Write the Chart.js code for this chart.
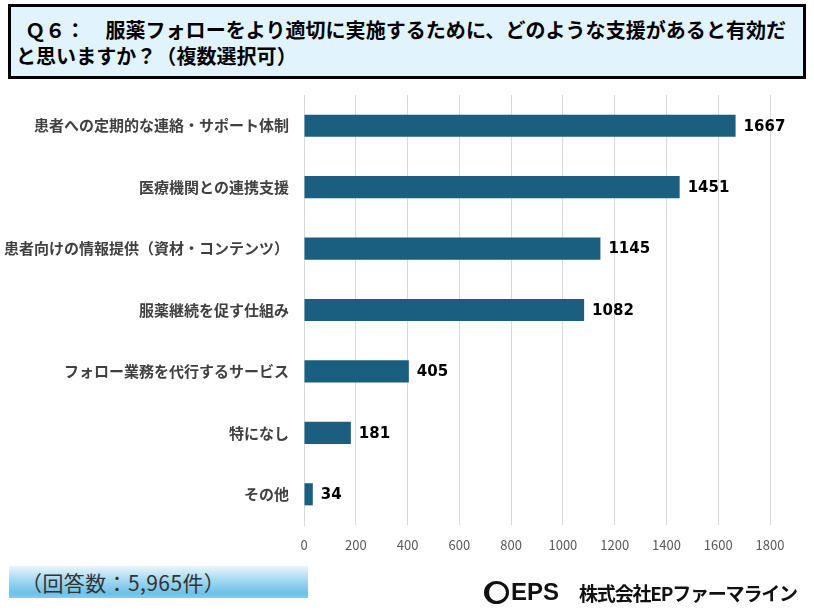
<!DOCTYPE html>
<html lang="ja">
<head>
<meta charset="utf-8">
<script src="https://cdn.jsdelivr.net/npm/chart.js@4"></script>
<style>
  html, body { margin: 0; padding: 0; background: #fff; }
  body { width: 814px; height: 613px; position: relative; overflow: hidden; font-family: "Noto Sans CJK JP", sans-serif; }
  #chartWrap { position: absolute; left: 0; top: 0; width: 814px; height: 613px; }
  .title {
    position: absolute; left: 8px; top: 4px; width: 798px; height: 75px;
    border: 3px solid #000; background: #E1F3FC;
    font-weight: bold; font-size: 20px; line-height: 26px; color: #000;
    padding: 10px 0 0 5px; box-sizing: border-box; white-space: nowrap; letter-spacing: 0.05px;
  }
  .count {
    position: absolute; left: 9px; top: 566px; width: 299px; height: 32px;
    background: linear-gradient(to bottom, #EAF6FC 0%, #A9DBF2 40%, #6DC0E8 85%, #86CCEC 100%);
    font-size: 21px; line-height: 32px; color: #333; padding-left: 12px; box-sizing: border-box; letter-spacing: 0.4px;
  }
  .logo { position: absolute; left: 484px; top: 577px; height: 30px; display: flex; align-items: center; white-space: nowrap; }
  .ring { width: 17px; height: 17px; border-radius: 50%; border: 3px solid #111; border-left-width: 5px; margin-right: 2px; }
  .eps { font-family: "Liberation Sans", sans-serif; font-weight: bold; font-size: 24px; color: #111; margin-right: 20px; }
  .corp { font-weight: bold; font-size: 19px; color: #111; letter-spacing: -1.2px; }
</style>
</head>
<body>
<div id="chartWrap"><canvas id="barChart"></canvas></div>
<div class="title">&nbsp;&nbsp;Ｑ６：　服薬フォローをより適切に実施するために、どのような支援があると有効だ<br>と思いますか？（複数選択可）</div>
<div class="count">（回答数：5,965件）</div>
<div class="logo"><div class="ring"></div><span class="eps">EPS</span><span class="corp">株式会社EPファーマライン</span></div>
<script>
// データ
const categories = [
  '患者への定期的な連絡・サポート体制',
  '医療機関との連携支援',
  '患者向けの情報提供（資材・コンテンツ）',
  '服薬継続を促す仕組み',
  'フォロー業務を代行するサービス',
  '特になし',
  'その他'
];
const answers = [1667, 1451, 1145, 1082, 405, 181, 34];
const axisMax = 1800;
const axisStep = 200;

// 棒の右に数値を表示
const valueLabels = {
  id: 'valueLabels',
  afterDatasetsDraw(chart) {
    const c = chart.ctx;
    const meta = chart.getDatasetMeta(0);
    c.save();
    c.font = 'bold 15px "DejaVu Sans", sans-serif';
    c.fillStyle = '#000';
    c.textBaseline = 'middle';
    meta.data.forEach((bar, i) => {
      c.fillText(answers[i], bar.x + 8, bar.y + 1);
    });
    c.restore();
  }
};

const ctx = document.getElementById('barChart').getContext('2d');
new Chart(ctx, {
  type: 'bar',
  data: {
    labels: categories,
    datasets: [{
      data: answers,
      backgroundColor: '#1A5E80',
      barPercentage: 0.36,
      categoryPercentage: 1
    }]
  },
  options: {
    indexAxis: 'y',
    responsive: true,
    maintainAspectRatio: false,
    animation: false,
    layout: { padding: { top: 95, left: 0, right: 44, bottom: 58 } },
    plugins: {
      legend: { display: false },
      tooltip: { enabled: false }
    },
    scales: {
      x: {
        min: 0,
        max: axisMax,
        ticks: {
          stepSize: axisStep,
          color: '#595959',
          padding: 12,
          font: { family: '"Noto Sans CJK JP", sans-serif', size: 13 },
          callback: v => String(v)
        },
        grid: { color: '#D9D9D9', drawTicks: false },
        border: { display: false },
        afterFit(scale) { scale.height = 30; }
      },
      y: {
        ticks: {
          color: '#404040',
          padding: 15,
          font: { family: '"Noto Sans CJK JP", sans-serif', size: 15, weight: 'bold' }
        },
        grid: { display: false, drawTicks: false },
        border: { display: true, color: '#D9D9D9' },
        afterFit(scale) { scale.width = 304; }
      }
    }
  },
  plugins: [valueLabels]
});
</script>
</body>
</html>
